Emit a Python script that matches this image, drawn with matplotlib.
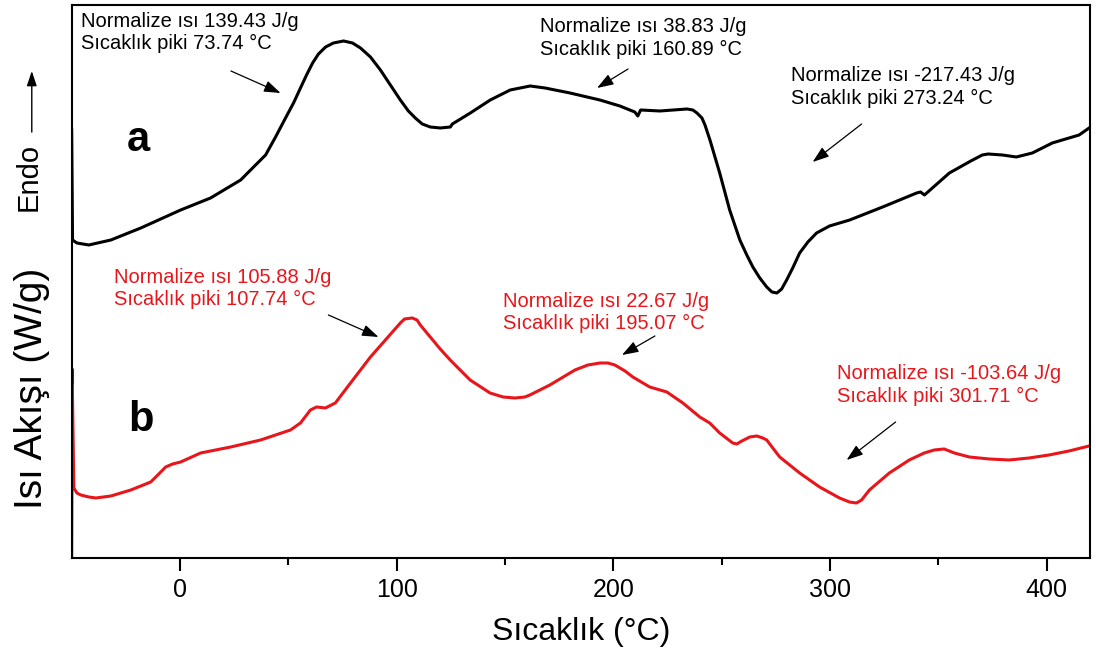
import matplotlib.pyplot as plt

plt.rcParams['font.family'] = ['Liberation Sans', 'DejaVu Sans']

# curve a (black), temperature in degC and heat flow in arbitrary units
temp_a = [-50.0, -49.6, -47.6, -42.1, -31.9, -18.1, 0.3, 14.1, 28.0, 33.5,
          39.5, 44.1, 48.7, 52.4, 55.6, 58.4, 61.2, 63.9, 67.2, 70.8,
          75.5, 79.6, 83.3, 87.9, 92.5, 97.1, 101.7, 105.4, 108.6, 111.8,
          115.5, 120.1, 124.8, 125.7, 134.0, 143.2, 152.4, 161.6, 168.5, 180.0,
          193.8, 203.0, 209.9, 211.3, 212.6, 221.5, 234.0, 236.7, 238.6, 240.9,
          242.3, 244.6, 249.1, 253.7, 258.4, 261.6, 264.4, 267.6, 270.8, 273.2,
          275.5, 277.7, 280.0, 282.8, 286.0, 289.8, 293.8, 299.8, 309.1, 324.3,
          340.0, 341.8, 343.6, 355.1, 365.0, 370.3, 373.0, 379.6, 386.0, 393.4,
          402.6, 415.0, 419.6]
flow_a = [4.28, 3.18, 3.15, 3.13, 3.18, 3.30, 3.48, 3.60, 3.78, 3.90,
          4.03, 4.21, 4.40, 4.55, 4.70, 4.83, 4.95, 5.04, 5.11, 5.15,
          5.17, 5.15, 5.10, 5.01, 4.88, 4.73, 4.58, 4.47, 4.40, 4.34,
          4.31, 4.30, 4.31, 4.34, 4.45, 4.58, 4.68, 4.72, 4.70, 4.65,
          4.58, 4.52, 4.46, 4.42, 4.48, 4.47, 4.49, 4.48, 4.45, 4.40,
          4.33, 4.18, 3.85, 3.48, 3.18, 3.03, 2.91, 2.80, 2.71, 2.66,
          2.65, 2.69, 2.78, 2.90, 3.05, 3.16, 3.25, 3.32, 3.38, 3.51,
          3.65, 3.66, 3.63, 3.85, 3.97, 4.03, 4.04, 4.03, 4.01, 4.05,
          4.15, 4.23, 4.30]

# curve b (red)
temp_b = [-50.0, -49.7, -49.0, -47.6, -45.8, -42.1, -38.8, -31.9, -22.7, -13.5,
          -9.8, -6.6, -3.4, 0.3, 9.5, 23.4, 37.2, 51.0, 55.6, 60.2,
          63.0, 67.1, 71.7, 78.7, 87.9, 94.8, 101.7, 103.6, 107.2, 109.4,
          110.9, 115.5, 120.1, 124.7, 133.9, 143.1, 149.1, 154.6, 159.2, 161.5,
          170.7, 182.3, 188.3, 193.8, 197.5, 200.7, 205.4, 209.0, 216.8, 224.7,
          232.1, 239.9, 244.5, 249.1, 255.1, 257.0, 259.3, 263.0, 266.2, 269.0,
          270.8, 273.6, 276.8, 286.0, 295.2, 304.4, 309.0, 312.2, 314.6, 318.2,
          327.4, 336.6, 343.5, 348.1, 352.7, 357.4, 364.3, 373.5, 382.7, 391.9,
          401.1, 410.3, 419.6]
flow_b = [0.00, 1.73, 0.70, 0.65, 0.63, 0.61, 0.60, 0.62, 0.68, 0.76,
          0.84, 0.91, 0.94, 0.96, 1.05, 1.11, 1.18, 1.28, 1.35, 1.48,
          1.51, 1.50, 1.55, 1.75, 2.01, 2.18, 2.35, 2.39, 2.40, 2.38,
          2.33, 2.21, 2.09, 1.98, 1.78, 1.65, 1.61, 1.60, 1.61, 1.63,
          1.73, 1.88, 1.93, 1.95, 1.95, 1.93, 1.87, 1.81, 1.71, 1.66,
          1.55, 1.41, 1.35, 1.25, 1.15, 1.14, 1.17, 1.21, 1.22, 1.20,
          1.18, 1.10, 1.01, 0.85, 0.71, 0.60, 0.56, 0.55, 0.58, 0.68,
          0.85, 0.98, 1.05, 1.08, 1.09, 1.05, 1.01, 0.99, 0.98, 1.00,
          1.03, 1.07, 1.12]

# start of a third run, only visible on the left edge
temp_c = [-50.0, -50.0]
flow_c = [1.73, 1.90]

red = '#e8161b'

# peak labels: text, text position, arrow tail, arrow tip, colour
peaks = [
    ('Normalize ısı 139.43 J/g\nSıcaklık piki 73.74 °C', (-45.7, 5.255), (23.5, 4.87), (46.4, 4.65), 'black'),
    ('Normalize ısı 38.83 J/g\nSıcaklık piki 160.89 °C', (166.2, 5.20), (206.8, 4.89), (192.5, 4.70), 'black'),
    ('Normalize ısı -217.43 J/g\nSıcaklık piki 273.24 °C', (282.2, 4.71), (314.6, 4.34), (292.0, 3.96), 'black'),
    ('Normalize ısı 105.88 J/g\nSıcaklık piki 107.74 °C', (-30.6, 2.695), (68.5, 2.43), (91.6, 2.21), red),
    ('Normalize ısı 22.67 J/g\nSıcaklık piki 195.07 °C', (149.2, 2.455), (219.2, 2.22), (204.0, 2.03), red),
    ('Normalize ısı -103.64 J/g\nSıcaklık piki 301.71 °C', (303.1, 1.73), (330.3, 1.36), (307.7, 0.98), red),
]

fig = plt.figure(figsize=(10.96, 6.57), dpi=100)
ax = fig.add_axes([0.0654, 0.1507, 0.9291, 0.8417])

ax.plot(temp_c, flow_c, color='#2020d0', lw=2.2, solid_capstyle='butt')
ax.plot(temp_b, flow_b, color=red, lw=2.2)
ax.plot(temp_a, flow_a, color='black', lw=2.2)

for txt, pos, tail, tip, col in peaks:
    ax.text(pos[0], pos[1], txt, color=col, fontsize=14.5, ha='left', va='center',
            linespacing=1.25)
    ax.annotate('', xy=tip, xytext=tail,
                arrowprops=dict(arrowstyle='-|>,head_length=1.0,head_width=0.35',
                                color='black', lw=0.9, shrinkA=0, shrinkB=0))

ax.text(-19.0, 4.18, 'a', fontsize=30, fontweight='bold', ha='center', va='center')
ax.text(-18.1, 1.38, 'b', fontsize=30, fontweight='bold', ha='center', va='center')

ax.set_xlim(-50, 420)
ax.set_ylim(0, 5.53)
ax.set_xticks([0, 100, 200, 300, 400])
ax.set_xticks([50, 150, 250, 350], minor=True)
ax.set_yticks([])
ax.tick_params(axis='x', which='major', direction='out', length=9.5, width=1.5,
               labelsize=18, pad=5)
ax.tick_params(axis='x', which='minor', direction='out', length=5, width=1.5)
for sp in ax.spines.values():
    sp.set_linewidth(1.5)

fig.text(0.530, 0.038, 'Sıcaklık (°C)', fontsize=23, ha='center', va='center')
fig.text(0.029, 0.409, 'Isı Akışı (W/g)', fontsize=28, rotation=90,
         ha='center', va='center')
fig.text(0.026, 0.730, 'Endo', fontsize=21, rotation=90, ha='center', va='center')
ax.annotate('', xy=(0.029, 0.892), xytext=(0.029, 0.799),
            xycoords='figure fraction', textcoords='figure fraction',
            annotation_clip=False,
            arrowprops=dict(arrowstyle='-|>,head_length=0.9,head_width=0.3',
                            color='black', lw=1.0, shrinkA=0, shrinkB=0))

fig.savefig('out.png', dpi=100)
